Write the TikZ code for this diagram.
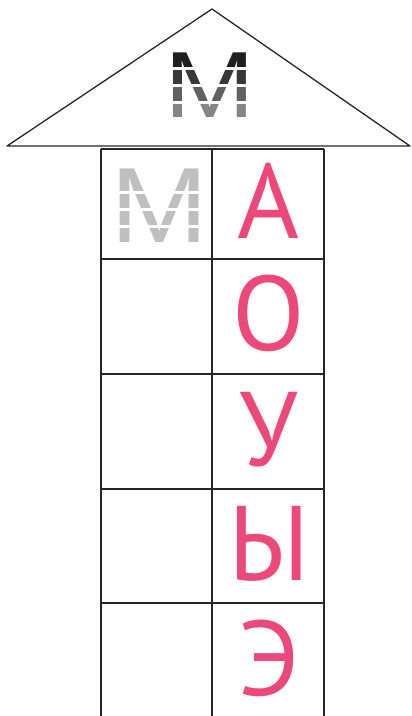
\documentclass[tikz,border=0pt]{standalone}
\usepackage{fontspec}
\setmainfont{PT Sans}
\newfontfamily\stencilfont{Liberation Sans}
\usepackage{tikz}
\definecolor{vowelpink}{RGB}{236,72,122}
\tikzset{
  grid line/.style={line width=1.6pt, black!85},
  vowel/.style={text=vowelpink, font=\fontsize{106}{106}\selectfont, inner sep=0pt, anchor=base},
  stencil/.style={font=\stencilfont\fontsize{94}{94}\selectfont, inner sep=0pt, anchor=base},
}

\begin{document}
\begin{tikzpicture}[x=1pt, y=-1pt, line join=round]
    \useasboundingbox (0,0) rectangle (412,716);

    % roof
    \coordinate (apex) at (212,9);
    \coordinate (eaveL) at (7,146);
    \coordinate (eaveR) at (410,146);
    \draw[line width=1.3pt, black!85] (eaveL) -- (apex) -- (eaveR) -- cycle;

    % striped M under the roof, fading downwards
    \foreach \top/\bot/\shade [count=\i] in {45/66/88, 70/83/78, 87/100/62, 104/122/48} {
        \begin{scope}
            \clip (150,\top) rectangle (270,\bot);
            \node[stencil, text=black!\shade, xscale=1.16] (roofM\i) at (210,117) {М};
        \end{scope}
    }

    % two columns, open at the bottom
    \foreach \x in {101,212,324} \draw[grid line] (\x,149) -- (\x,716);
    \foreach \y in {149,259,374,489,603} \draw[grid line] (101,\y) -- (324,\y);

    % pale dotted M in the first cell
    \foreach \top/\bot [count=\i] in {160/190, 194/207, 211/224, 228/246} {
        \begin{scope}
            \clip (105,\top) rectangle (208,\bot);
            \node[stencil, text=black!25, font=\stencilfont\fontsize{107}{107}\selectfont, xscale=1.1] (cellM\i) at (160,242) {М};
        \end{scope}
    }

    % vowels
    \foreach \v/\base [count=\i] in {А/238, О/350, У/466, Ы/580, Э/695}
        \node[vowel] (vowel\i) at (269,\base) {\v};

\end{tikzpicture}
\end{document}
